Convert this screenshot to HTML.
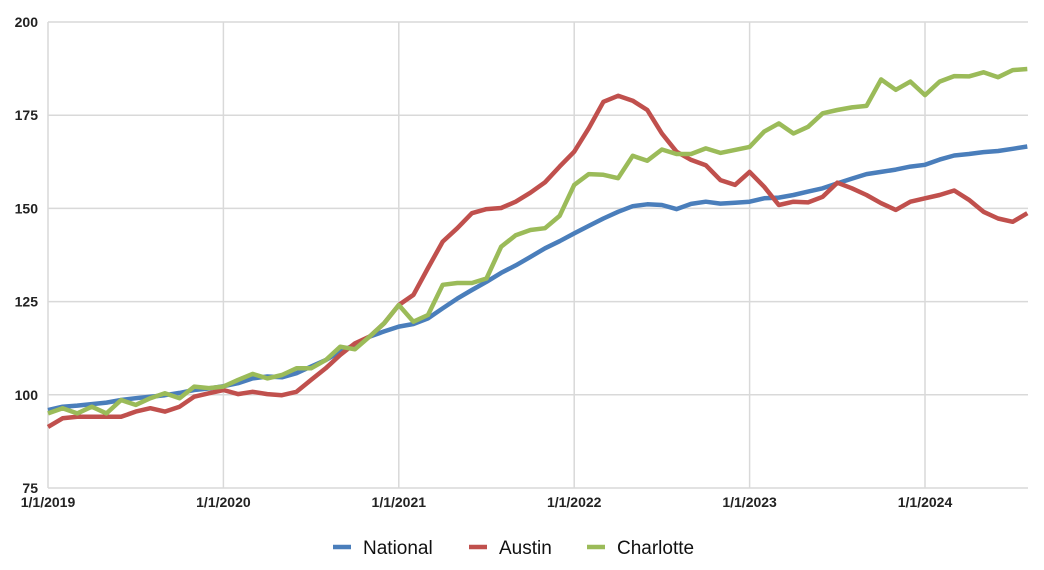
<!DOCTYPE html>
<html><head><meta charset="utf-8"><style>
html,body{margin:0;padding:0;background:#fff;}
svg{display:block;font-family:"Liberation Sans",sans-serif;}
</style></head><body>
<svg id="chart" width="1044" height="570" viewBox="0 0 1044 570" xmlns="http://www.w3.org/2000/svg">
<g id="grid"></g>
<g id="yaxis"></g>
<g id="xaxis"></g>
<g id="series"></g>
<g id="legend"></g>
</svg>
<script>
const yTicks = [75, 100, 125, 150, 175, 200];
const xTickLabels = ["1/1/2019","1/1/2020","1/1/2021","1/1/2022","1/1/2023","1/1/2024"];
const seriesNames = ["National","Austin","Charlotte"];
const national = [95.9,96.8,97.1,97.5,97.9,98.6,99.1,99.5,99.9,100.5,101.3,101.7,
102.3,103.1,104.4,104.9,104.7,105.8,107.6,109.3,111.6,113.4,115.6,117,
118.3,119,120.5,123.2,125.8,128.1,130.3,132.7,134.7,137,139.3,141.2,
143.3,145.3,147.3,149.1,150.6,151.1,150.9,149.8,151.2,151.8,151.3,151.5,
151.8,152.7,152.9,153.6,154.5,155.4,156.7,158,159.2,159.8,160.4,161.2,
161.7,163.1,164.2,164.6,165.1,165.4,166,166.6];
const austin = [91.4,93.7,94.1,94.1,94.1,94.1,95.5,96.4,95.5,96.8,99.5,100.4,
101.3,100.2,100.8,100.2,99.9,100.8,104,107.1,110.7,113.8,115.6,119.2,
124.1,126.8,134,141.1,144.7,148.7,149.8,150.1,151.8,154.2,157,161.2,
165.2,171.5,178.6,180.2,178.9,176.4,170.1,165.2,163,161.6,157.6,156.3,
159.8,155.8,150.9,151.8,151.6,153.1,156.9,155.4,153.6,151.4,149.6,151.8,
152.7,153.6,154.8,152.3,149.1,147.3,146.4,148.7];
const charlotte = [95,96.4,95,96.8,95,98.6,97.3,99.1,100.4,99.1,102.2,101.8,
102.2,104,105.6,104.4,105.3,107.1,107.1,109.3,112.9,112.2,115.6,119.2,
124.1,119.6,121.4,129.5,130,130,131.2,139.7,142.8,144.2,144.7,148,
156.3,159.2,159,158.1,164.1,162.8,165.8,164.6,164.6,166.1,164.9,165.7,
166.5,170.6,172.8,170.1,171.9,175.5,176.4,177.1,177.5,184.6,181.8,184,
180.4,184,185.5,185.4,186.5,185.2,187.1,187.4];
const colors = ["#4a7ebb","#c0504d","#9bbb59"];

const NS="http://www.w3.org/2000/svg";
const X0=48, MONTHW=(925-48)/60, Y0=488, Y1=22, XR=1028;
const xs = i => X0 + i*MONTHW;
const ys = v => Y0 - (v-75)/(200-75)*(Y0-Y1);
function mk(tag, attrs, parent){const e=document.createElementNS(NS,tag);for(const k in attrs)e.setAttribute(k,attrs[k]);parent.appendChild(e);return e;}
const grid=document.getElementById('grid'), ya=document.getElementById('yaxis'), xa=document.getElementById('xaxis');
yTicks.forEach(t=>{
  const l=mk('line',{x1:X0,x2:XR,y1:ys(t),y2:ys(t),stroke:'#d9d9d9','stroke-width':1.5},grid);
  
  
  const tx=mk('text',{x:38,y:ys(t)+5,'text-anchor':'end','font-size':14,'font-weight':'bold',fill:'#222'},ya);
  tx.textContent=t;
  
  
});
xTickLabels.forEach((lab,i)=>{
  const x=xs(i*12);
  const l=mk('line',{x1:x,x2:x,y1:Y1,y2:Y0,stroke:'#d9d9d9','stroke-width':1.5},grid);
  
  
  const tx=mk('text',{x:x,y:507,'text-anchor':'middle','font-size':14,'font-weight':'bold',fill:'#222'},xa);
  tx.textContent=lab;
  
  
});
const sg=document.getElementById('series');
[national,austin,charlotte].forEach((arr,k)=>{
  const p=mk('polyline',{points:arr.map((v,i)=>xs(i).toFixed(1)+','+ys(v).toFixed(1)).join(' '),fill:'none',stroke:colors[k],'stroke-width':4.5,'stroke-linejoin':'round'},sg);
  
  
});
const lg=document.getElementById('legend');
const legX=[333,469,587];
seriesNames.forEach((n,k)=>{
  const g=mk('g',{},lg);
  
  
  mk('line',{x1:legX[k],x2:legX[k]+18,y1:547,y2:547,stroke:colors[k],'stroke-width':4.5},g);
  const t=mk('text',{x:legX[k]+30,y:554,'font-size':19,fill:'#111'},g);
  t.textContent=n;
});
</script>
</body></html>
